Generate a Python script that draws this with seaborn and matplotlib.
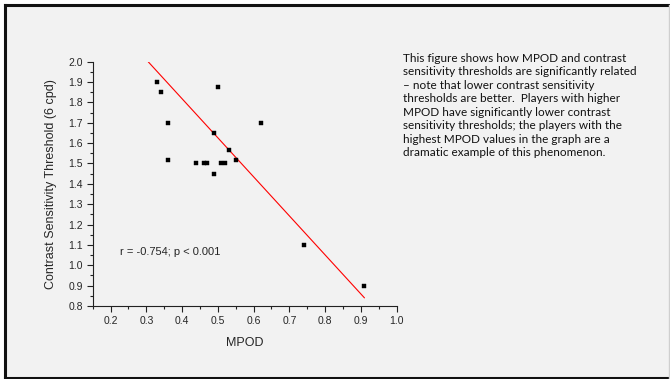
import numpy as np
import pandas as pd
import matplotlib
matplotlib.use("Agg")
import matplotlib.pyplot as plt
import seaborn as sns
from matplotlib.patches import Rectangle
from matplotlib.lines import Line2D

# Data
mpod = [0.33, 0.34, 0.36, 0.36, 0.44, 0.46, 0.47, 0.49, 0.49, 0.50, 0.51, 0.52, 0.53, 0.55, 0.62, 0.74, 0.91]
threshold = [1.90, 1.85, 1.70, 1.515, 1.50, 1.50, 1.50, 1.45, 1.65, 1.875, 1.50, 1.50, 1.565, 1.515, 1.70, 1.10, 0.90]
fit_x = [0.305, 0.91]
fit_y = [2.00, 0.84]
x_ticks = [0.2, 0.3, 0.4, 0.5, 0.6, 0.7, 0.8, 0.9, 1.0]
y_ticks = [0.8, 0.9, 1.0, 1.1, 1.2, 1.3, 1.4, 1.5, 1.6, 1.7, 1.8, 1.9, 2.0]
x_label = "MPOD"
y_label = "Contrast Sensitivity Threshold (6 cpd)"
stat_text = "r = -0.754; p < 0.001"
note_text = ("This figure shows how MPOD and contrast\n"
             "sensitivity thresholds are significantly related\n"
             "\u2013 note that lower contrast sensitivity\n"
             "thresholds are better.  Players with higher\n"
             "MPOD have significantly lower contrast\n"
             "sensitivity thresholds; the players with the\n"
             "highest MPOD values in the graph are a\n"
             "dramatic example of this phenomenon.")

df = pd.DataFrame({"MPOD": mpod, "CST": threshold})
fit_df = pd.DataFrame({"x": fit_x, "y": fit_y})

sns.set_style("ticks")
plt.rcParams["font.family"] = ["Liberation Sans", "DejaVu Sans"]

bg = "#f2f2f2"
fig = plt.figure(figsize=(6.7, 3.79), dpi=100)
fig.patch.set_facecolor("white")
x0, x1 = 4.5 / 670, 668.5 / 670
y0, y1 = 1 - 377.5 / 379, 1 - 5 / 379
fig.patches.append(Rectangle((x0, y0), x1 - x0, y1 - y0, transform=fig.transFigure,
                             facecolor=bg, edgecolor="none", zorder=-10))
for xs, ys, c, lw in [([x0, x0], [y0, y1], "#111111", 2.2),
                      ([x0, x1], [y1, y1], "#111111", 2.2),
                      ([x0, x1], [y0, y0], "#111111", 2.2),
                      ([x1, x1], [y0, y1], "#cfcfcf", 1.0)]:
    fig.lines.append(Line2D(xs, ys, transform=fig.transFigure, color=c, linewidth=lw,
                            solid_capstyle="projecting", zorder=-5))

ax = fig.add_axes([0.1384, 0.1926, 0.592 - 0.1384, 0.8372 - 0.1926])
ax.set_facecolor("none")

sns.lineplot(data=fit_df, x="x", y="y", color="red", linewidth=0.8, ax=ax, zorder=2)
sns.scatterplot(data=df, x="MPOD", y="CST", marker="s", s=9, color="black",
                edgecolor="black", linewidth=0.3, ax=ax, zorder=3)

ax.set_xlim(0.15, 1.0)
ax.set_ylim(0.8, 2.0)
ax.set_xticks(x_ticks)
ax.set_yticks(y_ticks)
ax.set_xticklabels([f"{v:.1f}" for v in x_ticks])
ax.set_yticklabels([f"{v:.1f}" for v in y_ticks])
ax.set_xticks(np.arange(0.15, 1.0, 0.1), minor=True)
ax.set_yticks(np.arange(0.85, 2.0, 0.1), minor=True)
ax.tick_params(axis="both", which="major", length=4, width=0.8, labelsize=7.5, pad=3, color="#222222")
ax.tick_params(axis="both", which="minor", length=2, width=0.8, color="#222222")
for s in ["top", "right"]:
    ax.spines[s].set_visible(False)
for s in ["left", "bottom"]:
    ax.spines[s].set_linewidth(0.8)
    ax.spines[s].set_color("#222222")

ax.set_xlabel(x_label, fontsize=9, labelpad=8)
ax.set_ylabel(y_label, fontsize=9, labelpad=8)

ax.text(0.2265, 1.067, stat_text, fontsize=8, va="center", ha="left")

fig.text(0.6015, 1 - 53 / 379, note_text, fontsize=8.5, va="top", ha="left",
         linespacing=1.27, family=["Lato", "DejaVu Sans"], color="#111111")

fig.savefig("out.png", dpi=100, facecolor=fig.get_facecolor())
